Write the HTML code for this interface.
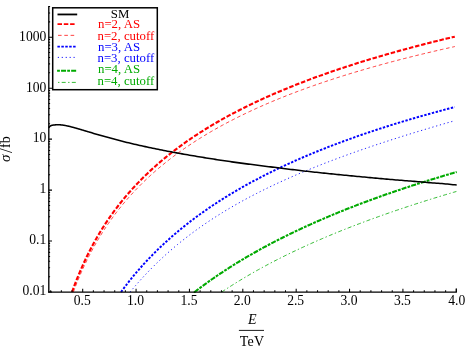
<!DOCTYPE html>
<html>
<head>
<meta charset="utf-8">
<title>Cross section vs energy</title>
<style>
html,body{margin:0;padding:0;background:#fff;}
body{width:465px;height:348px;overflow:hidden;font-family:"Liberation Serif",serif;}
svg{display:block;will-change:transform;}
text{font-family:"Liberation Serif",serif;}
</style>
</head>
<body>
<svg width="465" height="348" viewBox="0 0 465 348">
<rect width="465" height="348" fill="#fff"/>
<!-- curves -->
<g fill="none" stroke-linecap="butt" stroke-linejoin="round">
<path d="M73.37 292 L74.36 289.33 L75.72 285.79 L77.08 282.36 L78.44 279.03 L79.79 275.8 L81.15 272.65 L82.51 269.6 L83.87 266.63 L85.23 263.73 L86.59 260.91 L87.95 258.16 L89.3 255.48 L90.66 252.86 L92.02 250.3 L93.38 247.8 L94.74 245.36 L96.1 242.97 L97.46 240.63 L98.82 238.35 L100.17 236.11 L101.53 233.91 L102.89 231.76 L104.25 229.65 L105.61 227.59 L106.97 225.56 L108.33 223.57 L109.69 221.62 L111.04 219.7 L112.4 217.82 L113.76 215.97 L115.12 214.15 L116.48 212.36 L117.84 210.6 L119.2 208.87 L120.56 207.17 L121.91 205.5 L123.27 203.85 L124.63 202.23 L125.99 200.64 L127.35 199.06 L128.71 197.51 L130.07 195.99 L131.43 194.49 L132.78 193 L134.14 191.54 L135.5 190.1 L136.86 188.68 L138.22 187.28 L139.58 185.9 L140.94 184.54 L142.29 183.19 L143.65 181.87 L145.01 180.56 L146.37 179.26 L147.73 177.99 L149.09 176.72 L150.45 175.48 L151.81 174.25 L153.16 173.03 L154.52 171.83 L155.88 170.65 L157.24 169.47 L158.6 168.31 L159.96 167.17 L161.32 166.03 L162.68 164.91 L164.03 163.81 L165.39 162.71 L166.75 161.63 L168.11 160.56 L169.47 159.5 L170.83 158.45 L172.19 157.41 L173.55 156.38 L174.9 155.37 L176.26 154.36 L177.62 153.37 L178.98 152.38 L180.34 151.41 L181.7 150.44 L183.06 149.48 L184.42 148.54 L185.77 147.6 L187.13 146.67 L188.49 145.75 L189.85 144.84 L191.21 143.94 L192.57 143.04 L193.93 142.15 L195.28 141.28 L196.64 140.41 L198 139.54 L199.36 138.69 L200.72 137.84 L202.08 137 L203.44 136.17 L204.8 135.34 L206.15 134.53 L207.51 133.72 L208.87 132.91 L210.23 132.11 L211.59 131.32 L212.95 130.54 L214.31 129.76 L215.67 128.99 L217.02 128.22 L218.38 127.46 L219.74 126.71 L221.1 125.96 L222.46 125.22 L223.82 124.49 L225.18 123.76 L226.54 123.04 L227.89 122.32 L229.25 121.6 L230.61 120.9 L231.97 120.19 L233.33 119.5 L234.69 118.81 L236.05 118.12 L237.41 117.44 L238.76 116.76 L240.12 116.09 L241.48 115.42 L242.84 114.76 L244.2 114.1 L245.56 113.45 L246.92 112.8 L248.27 112.16 L249.63 111.52 L250.99 110.89 L252.35 110.26 L253.71 109.63 L255.07 109.01 L256.43 108.39 L257.79 107.78 L259.14 107.17 L260.5 106.56 L261.86 105.96 L263.22 105.37 L264.58 104.77 L265.94 104.18 L267.3 103.6 L268.66 103.02 L270.01 102.44 L271.37 101.86 L272.73 101.29 L274.09 100.72 L275.45 100.16 L276.81 99.6 L278.17 99.04 L279.53 98.49 L280.88 97.94 L282.24 97.4 L283.6 96.85 L284.96 96.31 L286.32 95.78 L287.68 95.24 L289.04 94.71 L290.4 94.18 L291.75 93.66 L293.11 93.14 L294.47 92.62 L295.83 92.11 L297.19 91.59 L298.55 91.09 L299.91 90.58 L301.26 90.08 L302.62 89.58 L303.98 89.08 L305.34 88.58 L306.7 88.09 L308.06 87.6 L309.42 87.12 L310.78 86.63 L312.13 86.15 L313.49 85.67 L314.85 85.2 L316.21 84.72 L317.57 84.25 L318.93 83.78 L320.29 83.32 L321.65 82.86 L323 82.39 L324.36 81.94 L325.72 81.48 L327.08 81.03 L328.44 80.57 L329.8 80.13 L331.16 79.68 L332.52 79.23 L333.87 78.79 L335.23 78.35 L336.59 77.92 L337.95 77.48 L339.31 77.05 L340.67 76.62 L342.03 76.19 L343.39 75.76 L344.74 75.34 L346.1 74.91 L347.46 74.49 L348.82 74.07 L350.18 73.66 L351.54 73.24 L352.9 72.83 L354.25 72.42 L355.61 72.01 L356.97 71.61 L358.33 71.2 L359.69 70.8 L361.05 70.4 L362.41 70 L363.77 69.6 L365.12 69.21 L366.48 68.81 L367.84 68.42 L369.2 68.03 L370.56 67.64 L371.92 67.26 L373.28 66.87 L374.64 66.49 L375.99 66.11 L377.35 65.73 L378.71 65.35 L380.07 64.98 L381.43 64.6 L382.79 64.23 L384.15 63.86 L385.51 63.49 L386.86 63.12 L388.22 62.76 L389.58 62.39 L390.94 62.03 L392.3 61.67 L393.66 61.31 L395.02 60.95 L396.38 60.6 L397.73 60.24 L399.09 59.89 L400.45 59.53 L401.81 59.18 L403.17 58.83 L404.53 58.49 L405.89 58.14 L407.24 57.8 L408.6 57.45 L409.96 57.11 L411.32 56.77 L412.68 56.43 L414.04 56.09 L415.4 55.76 L416.76 55.42 L418.11 55.09 L419.47 54.76 L420.83 54.43 L422.19 54.1 L423.55 53.77 L424.91 53.44 L426.27 53.12 L427.63 52.79 L428.98 52.47 L430.34 52.15 L431.7 51.83 L433.06 51.51 L434.42 51.19 L435.78 50.87 L437.14 50.56 L438.5 50.24 L439.85 49.93 L441.21 49.62 L442.57 49.31 L443.93 49 L445.29 48.69 L446.65 48.38 L448.01 48.08 L449.37 47.77 L450.72 47.47 L452.08 47.16 L453.44 46.86 L454.8 46.56" stroke="#ff0000" stroke-width="0.75" stroke-dasharray="3.6 2.7"/>
<path d="M130.13 292 L130.07 292.08 L131.43 290.44 L132.78 288.83 L134.14 287.23 L135.5 285.65 L136.86 284.09 L138.22 282.55 L139.58 281.02 L140.94 279.51 L142.29 278.02 L143.65 276.55 L145.01 275.09 L146.37 273.65 L147.73 272.22 L149.09 270.81 L150.45 269.42 L151.81 268.04 L153.16 266.67 L154.52 265.32 L155.88 263.99 L157.24 262.67 L158.6 261.36 L159.96 260.07 L161.32 258.8 L162.68 257.53 L164.03 256.28 L165.39 255.04 L166.75 253.82 L168.11 252.61 L169.47 251.41 L170.83 250.22 L172.19 249.05 L173.55 247.88 L174.9 246.73 L176.26 245.59 L177.62 244.46 L178.98 243.35 L180.34 242.24 L181.7 241.15 L183.06 240.06 L184.42 238.99 L185.77 237.92 L187.13 236.87 L188.49 235.83 L189.85 234.79 L191.21 233.77 L192.57 232.75 L193.93 231.75 L195.28 230.75 L196.64 229.77 L198 228.79 L199.36 227.82 L200.72 226.86 L202.08 225.91 L203.44 224.96 L204.8 224.03 L206.15 223.1 L207.51 222.18 L208.87 221.27 L210.23 220.37 L211.59 219.47 L212.95 218.58 L214.31 217.7 L215.67 216.83 L217.02 215.96 L218.38 215.1 L219.74 214.25 L221.1 213.41 L222.46 212.57 L223.82 211.73 L225.18 210.91 L226.54 210.09 L227.89 209.28 L229.25 208.47 L230.61 207.67 L231.97 206.88 L233.33 206.09 L234.69 205.31 L236.05 204.53 L237.41 203.76 L238.76 203 L240.12 202.24 L241.48 201.48 L242.84 200.73 L244.2 199.99 L245.56 199.25 L246.92 198.52 L248.27 197.79 L249.63 197.07 L250.99 196.35 L252.35 195.64 L253.71 194.93 L255.07 194.23 L256.43 193.53 L257.79 192.84 L259.14 192.15 L260.5 191.46 L261.86 190.78 L263.22 190.11 L264.58 189.44 L265.94 188.77 L267.3 188.11 L268.66 187.45 L270.01 186.79 L271.37 186.14 L272.73 185.5 L274.09 184.85 L275.45 184.22 L276.81 183.58 L278.17 182.95 L279.53 182.32 L280.88 181.7 L282.24 181.08 L283.6 180.46 L284.96 179.85 L286.32 179.24 L287.68 178.63 L289.04 178.03 L290.4 177.43 L291.75 176.83 L293.11 176.24 L294.47 175.65 L295.83 175.06 L297.19 174.48 L298.55 173.9 L299.91 173.32 L301.26 172.75 L302.62 172.18 L303.98 171.61 L305.34 171.04 L306.7 170.48 L308.06 169.92 L309.42 169.37 L310.78 168.81 L312.13 168.26 L313.49 167.71 L314.85 167.17 L316.21 166.62 L317.57 166.08 L318.93 165.54 L320.29 165.01 L321.65 164.47 L323 163.94 L324.36 163.41 L325.72 162.89 L327.08 162.37 L328.44 161.84 L329.8 161.33 L331.16 160.81 L332.52 160.29 L333.87 159.78 L335.23 159.27 L336.59 158.76 L337.95 158.26 L339.31 157.76 L340.67 157.25 L342.03 156.76 L343.39 156.26 L344.74 155.76 L346.1 155.27 L347.46 154.78 L348.82 154.29 L350.18 153.8 L351.54 153.32 L352.9 152.83 L354.25 152.35 L355.61 151.87 L356.97 151.39 L358.33 150.92 L359.69 150.44 L361.05 149.97 L362.41 149.5 L363.77 149.03 L365.12 148.57 L366.48 148.1 L367.84 147.64 L369.2 147.17 L370.56 146.71 L371.92 146.25 L373.28 145.8 L374.64 145.34 L375.99 144.89 L377.35 144.43 L378.71 143.98 L380.07 143.53 L381.43 143.08 L382.79 142.64 L384.15 142.19 L385.51 141.75 L386.86 141.3 L388.22 140.86 L389.58 140.42 L390.94 139.99 L392.3 139.55 L393.66 139.11 L395.02 138.68 L396.38 138.25 L397.73 137.81 L399.09 137.38 L400.45 136.95 L401.81 136.53 L403.17 136.1 L404.53 135.67 L405.89 135.25 L407.24 134.83 L408.6 134.41 L409.96 133.99 L411.32 133.57 L412.68 133.15 L414.04 132.73 L415.4 132.31 L416.76 131.9 L418.11 131.49 L419.47 131.07 L420.83 130.66 L422.19 130.25 L423.55 129.84 L424.91 129.43 L426.27 129.03 L427.63 128.62 L428.98 128.21 L430.34 127.81 L431.7 127.41 L433.06 127 L434.42 126.6 L435.78 126.2 L437.14 125.8 L438.5 125.4 L439.85 125.01 L441.21 124.61 L442.57 124.21 L443.93 123.82 L445.29 123.43 L446.65 123.03 L448.01 122.64 L449.37 122.25 L450.72 121.86 L452.08 121.47 L453.44 121.08 L454.8 120.69" stroke="#0000ff" stroke-width="0.9" stroke-dasharray="1.2 2.73"/>
<path d="M221.78 292 L221.78 292 L223.14 291.09 L224.51 290.18 L225.87 289.28 L227.24 288.39 L228.6 287.51 L229.96 286.63 L231.33 285.76 L232.69 284.89 L234.06 284.03 L235.42 283.18 L236.78 282.33 L238.15 281.49 L239.51 280.66 L240.88 279.83 L242.24 279.01 L243.61 278.19 L244.97 277.38 L246.33 276.57 L247.7 275.77 L249.06 274.98 L250.43 274.19 L251.79 273.4 L253.15 272.62 L254.52 271.85 L255.88 271.08 L257.25 270.31 L258.61 269.56 L259.97 268.8 L261.34 268.05 L262.7 267.31 L264.07 266.56 L265.43 265.83 L266.79 265.1 L268.16 264.37 L269.52 263.65 L270.89 262.93 L272.25 262.22 L273.61 261.51 L274.98 260.8 L276.34 260.1 L277.71 259.4 L279.07 258.71 L280.44 258.02 L281.8 257.34 L283.16 256.65 L284.53 255.98 L285.89 255.3 L287.26 254.63 L288.62 253.97 L289.98 253.31 L291.35 252.65 L292.71 251.99 L294.08 251.34 L295.44 250.69 L296.8 250.05 L298.17 249.41 L299.53 248.77 L300.9 248.14 L302.26 247.51 L303.62 246.88 L304.99 246.25 L306.35 245.63 L307.72 245.01 L309.08 244.4 L310.44 243.79 L311.81 243.18 L313.17 242.57 L314.54 241.97 L315.9 241.37 L317.26 240.78 L318.63 240.18 L319.99 239.59 L321.36 239 L322.72 238.42 L324.09 237.84 L325.45 237.26 L326.81 236.68 L328.18 236.11 L329.54 235.54 L330.91 234.97 L332.27 234.4 L333.63 233.84 L335 233.28 L336.36 232.72 L337.73 232.16 L339.09 231.61 L340.45 231.06 L341.82 230.51 L343.18 229.97 L344.55 229.43 L345.91 228.88 L347.27 228.35 L348.64 227.81 L350 227.28 L351.37 226.75 L352.73 226.22 L354.09 225.69 L355.46 225.17 L356.82 224.64 L358.19 224.12 L359.55 223.61 L360.92 223.09 L362.28 222.58 L363.64 222.07 L365.01 221.56 L366.37 221.05 L367.74 220.54 L369.1 220.04 L370.46 219.54 L371.83 219.04 L373.19 218.55 L374.56 218.05 L375.92 217.56 L377.28 217.07 L378.65 216.58 L380.01 216.09 L381.38 215.61 L382.74 215.12 L384.1 214.64 L385.47 214.16 L386.83 213.68 L388.2 213.21 L389.56 212.73 L390.92 212.26 L392.29 211.79 L393.65 211.32 L395.02 210.86 L396.38 210.39 L397.75 209.93 L399.11 209.47 L400.47 209.01 L401.84 208.55 L403.2 208.09 L404.57 207.64 L405.93 207.18 L407.29 206.73 L408.66 206.28 L410.02 205.83 L411.39 205.39 L412.75 204.94 L414.11 204.5 L415.48 204.06 L416.84 203.62 L418.21 203.18 L419.57 202.74 L420.93 202.3 L422.3 201.87 L423.66 201.44 L425.03 201.01 L426.39 200.58 L427.75 200.15 L429.12 199.72 L430.48 199.29 L431.85 198.87 L433.21 198.45 L434.57 198.03 L435.94 197.61 L437.3 197.19 L438.67 196.77 L440.03 196.36 L441.4 195.94 L442.76 195.53 L444.12 195.12 L445.49 194.71 L446.85 194.3 L448.22 193.89 L449.58 193.48 L450.94 193.08 L452.31 192.67 L453.67 192.27 L455.04 191.87 L456.4 191.47" stroke="#00aa00" stroke-width="0.8" stroke-dasharray="4 2.35 1.4 2.35"/>
<path d="M72.06 292 L73 289.37 L74.36 285.69 L75.72 282.12 L77.08 278.66 L78.44 275.3 L79.79 272.04 L81.15 268.88 L82.51 265.8 L83.87 262.8 L85.23 259.88 L86.59 257.04 L87.95 254.26 L89.3 251.56 L90.66 248.92 L92.02 246.34 L93.38 243.82 L94.74 241.35 L96.1 238.94 L97.46 236.58 L98.82 234.28 L100.17 232.02 L101.53 229.8 L102.89 227.63 L104.25 225.5 L105.61 223.41 L106.97 221.37 L108.33 219.36 L109.69 217.38 L111.04 215.44 L112.4 213.54 L113.76 211.67 L115.12 209.83 L116.48 208.02 L117.84 206.24 L119.2 204.5 L120.56 202.77 L121.91 201.08 L123.27 199.41 L124.63 197.77 L125.99 196.16 L127.35 194.56 L128.71 192.99 L130.07 191.45 L131.43 189.92 L132.78 188.42 L134.14 186.94 L135.5 185.48 L136.86 184.04 L138.22 182.62 L139.58 181.21 L140.94 179.83 L142.29 178.46 L143.65 177.12 L145.01 175.78 L146.37 174.47 L147.73 173.17 L149.09 171.89 L150.45 170.62 L151.81 169.37 L153.16 168.13 L154.52 166.91 L155.88 165.7 L157.24 164.51 L158.6 163.33 L159.96 162.16 L161.32 161.01 L162.68 159.86 L164.03 158.73 L165.39 157.62 L166.75 156.51 L168.11 155.42 L169.47 154.34 L170.83 153.27 L172.19 152.21 L173.55 151.16 L174.9 150.12 L176.26 149.09 L177.62 148.08 L178.98 147.07 L180.34 146.07 L181.7 145.08 L183.06 144.1 L184.42 143.13 L185.77 142.17 L187.13 141.22 L188.49 140.28 L189.85 139.35 L191.21 138.42 L192.57 137.5 L193.93 136.6 L195.28 135.69 L196.64 134.8 L198 133.92 L199.36 133.04 L200.72 132.17 L202.08 131.31 L203.44 130.45 L204.8 129.6 L206.15 128.76 L207.51 127.93 L208.87 127.1 L210.23 126.28 L211.59 125.47 L212.95 124.66 L214.31 123.86 L215.67 123.07 L217.02 122.28 L218.38 121.5 L219.74 120.72 L221.1 119.95 L222.46 119.19 L223.82 118.43 L225.18 117.68 L226.54 116.93 L227.89 116.19 L229.25 115.45 L230.61 114.72 L231.97 114 L233.33 113.28 L234.69 112.57 L236.05 111.86 L237.41 111.15 L238.76 110.45 L240.12 109.76 L241.48 109.07 L242.84 108.38 L244.2 107.7 L245.56 107.03 L246.92 106.36 L248.27 105.69 L249.63 105.03 L250.99 104.37 L252.35 103.72 L253.71 103.07 L255.07 102.42 L256.43 101.78 L257.79 101.15 L259.14 100.51 L260.5 99.89 L261.86 99.26 L263.22 98.64 L264.58 98.03 L265.94 97.41 L267.3 96.8 L268.66 96.2 L270.01 95.6 L271.37 95 L272.73 94.41 L274.09 93.82 L275.45 93.23 L276.81 92.65 L278.17 92.07 L279.53 91.49 L280.88 90.92 L282.24 90.35 L283.6 89.78 L284.96 89.22 L286.32 88.66 L287.68 88.1 L289.04 87.55 L290.4 87 L291.75 86.45 L293.11 85.91 L294.47 85.37 L295.83 84.83 L297.19 84.29 L298.55 83.76 L299.91 83.23 L301.26 82.71 L302.62 82.18 L303.98 81.66 L305.34 81.15 L306.7 80.63 L308.06 80.12 L309.42 79.61 L310.78 79.1 L312.13 78.6 L313.49 78.1 L314.85 77.6 L316.21 77.1 L317.57 76.61 L318.93 76.12 L320.29 75.63 L321.65 75.14 L323 74.66 L324.36 74.18 L325.72 73.7 L327.08 73.22 L328.44 72.75 L329.8 72.27 L331.16 71.81 L332.52 71.34 L333.87 70.87 L335.23 70.41 L336.59 69.95 L337.95 69.49 L339.31 69.04 L340.67 68.58 L342.03 68.13 L343.39 67.68 L344.74 67.23 L346.1 66.79 L347.46 66.34 L348.82 65.9 L350.18 65.46 L351.54 65.03 L352.9 64.59 L354.25 64.16 L355.61 63.73 L356.97 63.3 L358.33 62.87 L359.69 62.45 L361.05 62.02 L362.41 61.6 L363.77 61.18 L365.12 60.76 L366.48 60.35 L367.84 59.93 L369.2 59.52 L370.56 59.11 L371.92 58.7 L373.28 58.29 L374.64 57.89 L375.99 57.49 L377.35 57.08 L378.71 56.68 L380.07 56.29 L381.43 55.89 L382.79 55.49 L384.15 55.1 L385.51 54.71 L386.86 54.32 L388.22 53.93 L389.58 53.54 L390.94 53.16 L392.3 52.77 L393.66 52.39 L395.02 52.01 L396.38 51.63 L397.73 51.26 L399.09 50.88 L400.45 50.51 L401.81 50.13 L403.17 49.76 L404.53 49.39 L405.89 49.02 L407.24 48.66 L408.6 48.29 L409.96 47.93 L411.32 47.56 L412.68 47.2 L414.04 46.84 L415.4 46.48 L416.76 46.13 L418.11 45.77 L419.47 45.42 L420.83 45.06 L422.19 44.71 L423.55 44.36 L424.91 44.01 L426.27 43.66 L427.63 43.32 L428.98 42.97 L430.34 42.63 L431.7 42.28 L433.06 41.94 L434.42 41.6 L435.78 41.26 L437.14 40.93 L438.5 40.59 L439.85 40.26 L441.21 39.92 L442.57 39.59 L443.93 39.26 L445.29 38.93 L446.65 38.6 L448.01 38.27 L449.37 37.94 L450.72 37.62 L452.08 37.29 L453.44 36.97 L454.8 36.65" stroke="#ff0000" stroke-width="2.1" stroke-dasharray="4.5 1.8"/>
<path d="M121.04 292 L121.91 290.81 L123.27 288.97 L124.63 287.15 L125.99 285.37 L127.35 283.6 L128.71 281.87 L130.07 280.15 L131.43 278.46 L132.78 276.8 L134.14 275.15 L135.5 273.53 L136.86 271.93 L138.22 270.35 L139.58 268.79 L140.94 267.24 L142.29 265.72 L143.65 264.22 L145.01 262.73 L146.37 261.27 L147.73 259.82 L149.09 258.38 L150.45 256.97 L151.81 255.57 L153.16 254.19 L154.52 252.82 L155.88 251.47 L157.24 250.13 L158.6 248.81 L159.96 247.5 L161.32 246.2 L162.68 244.92 L164.03 243.66 L165.39 242.4 L166.75 241.16 L168.11 239.94 L169.47 238.72 L170.83 237.52 L172.19 236.33 L173.55 235.15 L174.9 233.98 L176.26 232.83 L177.62 231.68 L178.98 230.55 L180.34 229.43 L181.7 228.31 L183.06 227.21 L184.42 226.12 L185.77 225.04 L187.13 223.97 L188.49 222.91 L189.85 221.86 L191.21 220.82 L192.57 219.78 L193.93 218.76 L195.28 217.74 L196.64 216.74 L198 215.74 L199.36 214.75 L200.72 213.77 L202.08 212.8 L203.44 211.84 L204.8 210.88 L206.15 209.93 L207.51 208.99 L208.87 208.06 L210.23 207.14 L211.59 206.22 L212.95 205.31 L214.31 204.41 L215.67 203.51 L217.02 202.62 L218.38 201.74 L219.74 200.87 L221.1 200 L222.46 199.14 L223.82 198.28 L225.18 197.43 L226.54 196.59 L227.89 195.76 L229.25 194.93 L230.61 194.1 L231.97 193.29 L233.33 192.47 L234.69 191.67 L236.05 190.87 L237.41 190.07 L238.76 189.29 L240.12 188.5 L241.48 187.73 L242.84 186.95 L244.2 186.19 L245.56 185.43 L246.92 184.67 L248.27 183.92 L249.63 183.17 L250.99 182.43 L252.35 181.7 L253.71 180.97 L255.07 180.24 L256.43 179.52 L257.79 178.8 L259.14 178.09 L260.5 177.38 L261.86 176.68 L263.22 175.98 L264.58 175.29 L265.94 174.6 L267.3 173.92 L268.66 173.24 L270.01 172.56 L271.37 171.89 L272.73 171.22 L274.09 170.56 L275.45 169.9 L276.81 169.24 L278.17 168.59 L279.53 167.94 L280.88 167.3 L282.24 166.66 L283.6 166.02 L284.96 165.39 L286.32 164.76 L287.68 164.14 L289.04 163.52 L290.4 162.9 L291.75 162.29 L293.11 161.68 L294.47 161.07 L295.83 160.47 L297.19 159.87 L298.55 159.27 L299.91 158.68 L301.26 158.09 L302.62 157.5 L303.98 156.92 L305.34 156.34 L306.7 155.76 L308.06 155.19 L309.42 154.62 L310.78 154.05 L312.13 153.49 L313.49 152.92 L314.85 152.37 L316.21 151.81 L317.57 151.26 L318.93 150.71 L320.29 150.16 L321.65 149.62 L323 149.08 L324.36 148.54 L325.72 148.01 L327.08 147.47 L328.44 146.94 L329.8 146.42 L331.16 145.89 L332.52 145.37 L333.87 144.85 L335.23 144.34 L336.59 143.82 L337.95 143.31 L339.31 142.8 L340.67 142.3 L342.03 141.79 L343.39 141.29 L344.74 140.8 L346.1 140.3 L347.46 139.81 L348.82 139.31 L350.18 138.83 L351.54 138.34 L352.9 137.86 L354.25 137.37 L355.61 136.89 L356.97 136.42 L358.33 135.94 L359.69 135.47 L361.05 135 L362.41 134.53 L363.77 134.07 L365.12 133.6 L366.48 133.14 L367.84 132.68 L369.2 132.22 L370.56 131.77 L371.92 131.31 L373.28 130.86 L374.64 130.41 L375.99 129.97 L377.35 129.52 L378.71 129.08 L380.07 128.64 L381.43 128.2 L382.79 127.76 L384.15 127.33 L385.51 126.89 L386.86 126.46 L388.22 126.03 L389.58 125.6 L390.94 125.18 L392.3 124.75 L393.66 124.33 L395.02 123.91 L396.38 123.49 L397.73 123.08 L399.09 122.66 L400.45 122.25 L401.81 121.84 L403.17 121.43 L404.53 121.02 L405.89 120.61 L407.24 120.21 L408.6 119.81 L409.96 119.41 L411.32 119.01 L412.68 118.61 L414.04 118.21 L415.4 117.82 L416.76 117.43 L418.11 117.03 L419.47 116.64 L420.83 116.26 L422.19 115.87 L423.55 115.48 L424.91 115.1 L426.27 114.72 L427.63 114.34 L428.98 113.96 L430.34 113.58 L431.7 113.21 L433.06 112.83 L434.42 112.46 L435.78 112.09 L437.14 111.72 L438.5 111.35 L439.85 110.98 L441.21 110.62 L442.57 110.25 L443.93 109.89 L445.29 109.53 L446.65 109.17 L448.01 108.81 L449.37 108.45 L450.72 108.1 L452.08 107.74 L453.44 107.39 L454.8 107.04" stroke="#0000ff" stroke-width="1.95" stroke-dasharray="2.4 1.53"/>
<path d="M194.62 292 L194.61 292.01 L195.97 290.96 L197.34 289.92 L198.7 288.89 L200.07 287.86 L201.43 286.85 L202.8 285.84 L204.16 284.84 L205.53 283.85 L206.89 282.86 L208.26 281.89 L209.62 280.92 L210.99 279.95 L212.35 279 L213.72 278.05 L215.08 277.11 L216.45 276.18 L217.81 275.25 L219.18 274.33 L220.54 273.41 L221.91 272.51 L223.27 271.61 L224.64 270.71 L226 269.82 L227.37 268.94 L228.73 268.07 L230.1 267.2 L231.46 266.33 L232.83 265.47 L234.19 264.62 L235.56 263.78 L236.92 262.94 L238.29 262.1 L239.65 261.27 L241.02 260.45 L242.38 259.63 L243.75 258.81 L245.11 258 L246.48 257.2 L247.84 256.4 L249.21 255.61 L250.57 254.82 L251.94 254.04 L253.3 253.26 L254.67 252.49 L256.03 251.72 L257.4 250.96 L258.76 250.2 L260.13 249.44 L261.49 248.69 L262.86 247.95 L264.22 247.2 L265.59 246.47 L266.95 245.74 L268.32 245.01 L269.69 244.28 L271.05 243.56 L272.42 242.85 L273.78 242.14 L275.15 241.43 L276.51 240.73 L277.88 240.03 L279.24 239.33 L280.61 238.64 L281.97 237.95 L283.34 237.27 L284.7 236.59 L286.07 235.91 L287.43 235.24 L288.8 234.57 L290.16 233.91 L291.53 233.24 L292.89 232.59 L294.26 231.93 L295.62 231.28 L296.99 230.63 L298.35 229.99 L299.72 229.35 L301.08 228.71 L302.45 228.07 L303.81 227.44 L305.18 226.82 L306.54 226.19 L307.91 225.57 L309.27 224.95 L310.64 224.34 L312 223.72 L313.37 223.11 L314.73 222.51 L316.1 221.91 L317.46 221.31 L318.83 220.71 L320.19 220.11 L321.56 219.52 L322.92 218.93 L324.29 218.35 L325.65 217.77 L327.02 217.19 L328.38 216.61 L329.75 216.03 L331.11 215.46 L332.48 214.89 L333.84 214.33 L335.21 213.76 L336.57 213.2 L337.94 212.64 L339.3 212.09 L340.67 211.54 L342.03 210.98 L343.4 210.44 L344.76 209.89 L346.13 209.35 L347.49 208.81 L348.86 208.27 L350.22 207.73 L351.59 207.2 L352.95 206.67 L354.32 206.14 L355.68 205.61 L357.05 205.09 L358.41 204.56 L359.78 204.04 L361.14 203.53 L362.51 203.01 L363.88 202.5 L365.24 201.99 L366.61 201.48 L367.97 200.97 L369.34 200.47 L370.7 199.97 L372.07 199.47 L373.43 198.97 L374.8 198.47 L376.16 197.98 L377.53 197.49 L378.89 197 L380.26 196.51 L381.62 196.02 L382.99 195.54 L384.35 195.06 L385.72 194.58 L387.08 194.1 L388.45 193.62 L389.81 193.15 L391.18 192.68 L392.54 192.21 L393.91 191.74 L395.27 191.27 L396.64 190.81 L398 190.34 L399.37 189.88 L400.73 189.42 L402.1 188.97 L403.46 188.51 L404.83 188.06 L406.19 187.6 L407.56 187.15 L408.92 186.7 L410.29 186.26 L411.65 185.81 L413.02 185.37 L414.38 184.93 L415.75 184.49 L417.11 184.05 L418.48 183.61 L419.84 183.17 L421.21 182.74 L422.57 182.31 L423.94 181.88 L425.3 181.45 L426.67 181.02 L428.03 180.6 L429.4 180.17 L430.76 179.75 L432.13 179.33 L433.49 178.91 L434.86 178.49 L436.22 178.07 L437.59 177.66 L438.95 177.24 L440.32 176.83 L441.68 176.42 L443.05 176.01 L444.41 175.6 L445.78 175.2 L447.14 174.79 L448.51 174.39 L449.87 173.99 L451.24 173.58 L452.6 173.19 L453.97 172.79 L455.33 172.39 L456.7 171.99" stroke="#00aa00" stroke-width="2.1" stroke-dasharray="5 1.15 2.8 1.15"/>
<path d="M48.8 127.84 L49.15 127.28 L49.49 126.82 L49.84 126.44 L50.18 126.14 L50.53 125.9 L50.88 125.7 L51.22 125.54 L51.57 125.42 L51.92 125.32 L52.26 125.23 L52.61 125.17 L52.95 125.12 L53.3 125.07 L53.65 125.03 L53.99 124.99 L54.34 124.95 L54.69 124.92 L55.03 124.89 L55.38 124.86 L55.72 124.83 L56.07 124.81 L56.42 124.79 L56.76 124.78 L57.11 124.77 L57.46 124.76 L57.8 124.76 L58.15 124.76 L58.49 124.76 L58.84 124.77 L59.19 124.78 L59.53 124.8 L59.88 124.82 L60.23 124.84 L60.57 124.86 L60.92 124.89 L61.26 124.92 L61.61 124.96 L61.96 125 L62.3 125.04 L62.65 125.08 L62.99 125.13 L63.34 125.18 L63.69 125.24 L64.03 125.29 L64.38 125.35 L64.73 125.41 L65.07 125.47 L65.42 125.54 L65.76 125.61 L66.11 125.67 L66.46 125.75 L66.8 125.82 L67.15 125.89 L67.5 125.97 L67.84 126.04 L68.19 126.12 L68.53 126.2 L68.88 126.28 L69.23 126.37 L69.57 126.45 L69.92 126.53 L70.27 126.62 L70.61 126.71 L70.96 126.79 L71.3 126.88 L71.65 126.97 L72 127.06 L72.34 127.15 L72.69 127.24 L73.04 127.34 L73.38 127.43 L73.73 127.52 L74.07 127.62 L74.42 127.71 L74.77 127.81 L75.11 127.91 L75.46 128 L75.81 128.1 L76.15 128.2 L76.5 128.3 L76.84 128.39 L77.19 128.49 L77.54 128.59 L77.88 128.69 L78.23 128.79 L78.57 128.89 L78.92 128.99 L79.27 129.09 L79.61 129.2 L79.96 129.3 L80.31 129.4 L80.65 129.5 L81 129.6 L81.34 129.7 L81.69 129.81 L82.04 129.91 L82.38 130.01 L82.73 130.12 L83.08 130.22 L83.42 130.32 L83.77 130.43 L84.11 130.53 L84.46 130.63 L84.81 130.74 L85.15 130.84 L85.5 130.94 L85.85 131.05 L86.19 131.15 L86.54 131.25 L86.88 131.36 L87.23 131.46 L87.58 131.57 L87.92 131.67 L88.27 131.77 L88.62 131.88 L88.96 131.98 L89.31 132.09 L89.65 132.19 L90 132.29 L91.84 132.84 L93.69 133.39 L95.53 133.94 L97.37 134.48 L99.21 135.01 L101.06 135.54 L102.9 136.07 L104.74 136.59 L106.58 137.11 L108.43 137.62 L110.27 138.12 L112.11 138.62 L113.96 139.11 L115.8 139.6 L117.64 140.08 L119.48 140.55 L121.33 141.02 L123.17 141.49 L125.01 141.94 L126.85 142.39 L128.7 142.84 L130.54 143.28 L132.38 143.72 L134.23 144.15 L136.07 144.57 L137.91 144.99 L139.75 145.41 L141.6 145.82 L143.44 146.23 L145.28 146.63 L147.12 147.02 L148.97 147.42 L150.81 147.81 L152.65 148.19 L154.49 148.57 L156.34 148.95 L158.18 149.32 L160.02 149.69 L161.87 150.06 L163.71 150.42 L165.55 150.78 L167.39 151.14 L169.24 151.49 L171.08 151.84 L172.92 152.18 L174.76 152.53 L176.61 152.87 L178.45 153.2 L180.29 153.54 L182.14 153.87 L183.98 154.2 L185.82 154.52 L187.66 154.84 L189.51 155.16 L191.35 155.48 L193.19 155.79 L195.03 156.11 L196.88 156.41 L198.72 156.72 L200.56 157.03 L202.41 157.33 L204.25 157.63 L206.09 157.92 L207.93 158.22 L209.78 158.51 L211.62 158.8 L213.46 159.09 L215.3 159.38 L217.15 159.66 L218.99 159.94 L220.83 160.22 L222.68 160.5 L224.52 160.78 L226.36 161.05 L228.2 161.32 L230.05 161.59 L231.89 161.86 L233.73 162.12 L235.57 162.38 L237.42 162.64 L239.26 162.89 L241.1 163.14 L242.95 163.39 L244.79 163.64 L246.63 163.88 L248.47 164.12 L250.32 164.35 L252.16 164.59 L254 164.82 L255.84 165.06 L257.69 165.29 L259.53 165.52 L261.37 165.75 L263.22 165.97 L265.06 166.2 L266.9 166.43 L268.74 166.66 L270.59 166.89 L272.43 167.11 L274.27 167.34 L276.11 167.57 L277.96 167.8 L279.8 168.03 L281.64 168.26 L283.48 168.49 L285.33 168.72 L287.17 168.95 L289.01 169.18 L290.86 169.4 L292.7 169.63 L294.54 169.85 L296.38 170.07 L298.23 170.29 L300.07 170.51 L301.91 170.72 L303.75 170.94 L305.6 171.15 L307.44 171.35 L309.28 171.56 L311.13 171.76 L312.97 171.96 L314.81 172.16 L316.65 172.35 L318.5 172.55 L320.34 172.74 L322.18 172.93 L324.02 173.12 L325.87 173.31 L327.71 173.5 L329.55 173.69 L331.4 173.87 L333.24 174.06 L335.08 174.24 L336.92 174.42 L338.77 174.61 L340.61 174.79 L342.45 174.97 L344.29 175.15 L346.14 175.33 L347.98 175.51 L349.82 175.69 L351.67 175.87 L353.51 176.05 L355.35 176.23 L357.19 176.4 L359.04 176.58 L360.88 176.76 L362.72 176.93 L364.56 177.1 L366.41 177.28 L368.25 177.45 L370.09 177.62 L371.94 177.79 L373.78 177.96 L375.62 178.13 L377.46 178.29 L379.31 178.46 L381.15 178.62 L382.99 178.79 L384.83 178.95 L386.68 179.11 L388.52 179.27 L390.36 179.43 L392.21 179.58 L394.05 179.74 L395.89 179.9 L397.73 180.05 L399.58 180.2 L401.42 180.35 L403.26 180.5 L405.1 180.65 L406.95 180.8 L408.79 180.94 L410.63 181.09 L412.47 181.23 L414.32 181.37 L416.16 181.52 L418 181.67 L419.85 181.82 L421.69 181.99 L423.53 182.17 L425.37 182.34 L427.22 182.5 L429.06 182.64 L430.9 182.78 L432.74 182.91 L434.59 183.04 L436.43 183.17 L438.27 183.3 L440.12 183.44 L441.96 183.58 L443.8 183.74 L445.64 183.91 L447.49 184.1 L449.33 184.29 L451.17 184.48 L453.01 184.67 L454.86 184.85 L456.7 185.01" stroke="#000" stroke-width="1.55"/>
</g>
<!-- axes -->
<g fill="none" stroke="#000">
<path d="M48.8 6 V292.6" stroke-width="1.35"/>
<path d="M48.1 292 H456.9" stroke-width="1.25"/>
<path d="M456.3 292 v-3.4" stroke-width="1.1"/>
<path d="M50.68 292 v-1.7 M61.35 292 v-1.7 M72.03 292 v-1.7 M82.7 292 v-3.2 M93.37 292 v-1.7 M104.05 292 v-1.7 M114.72 292 v-1.7 M125.4 292 v-1.7 M136.07 292 v-3.2 M146.74 292 v-1.7 M157.42 292 v-1.7 M168.09 292 v-1.7 M178.77 292 v-1.7 M189.44 292 v-3.2 M200.11 292 v-1.7 M210.79 292 v-1.7 M221.46 292 v-1.7 M232.14 292 v-1.7 M242.81 292 v-3.2 M253.48 292 v-1.7 M264.16 292 v-1.7 M274.83 292 v-1.7 M285.51 292 v-1.7 M296.18 292 v-3.2 M306.85 292 v-1.7 M317.53 292 v-1.7 M328.2 292 v-1.7 M338.88 292 v-1.7 M349.55 292 v-3.2 M360.22 292 v-1.7 M370.9 292 v-1.7 M381.57 292 v-1.7 M392.25 292 v-1.7 M402.92 292 v-3.2 M413.59 292 v-1.7 M424.27 292 v-1.7 M434.94 292 v-1.7 M445.62 292 v-1.7 M456.29 292 v-3.2 M48.8 292.02 h3.2 M48.8 276.68 h1.3 M48.8 267.71 h1.3 M48.8 261.34 h1.3 M48.8 256.4 h1.3 M48.8 252.37 h1.3 M48.8 248.95 h1.3 M48.8 246 h1.3 M48.8 243.39 h1.3 M48.8 241.06 h3.2 M48.8 225.72 h1.3 M48.8 216.75 h1.3 M48.8 210.38 h1.3 M48.8 205.44 h1.3 M48.8 201.41 h1.3 M48.8 197.99 h1.3 M48.8 195.04 h1.3 M48.8 192.43 h1.3 M48.8 190.1 h3.2 M48.8 174.76 h1.3 M48.8 165.79 h1.3 M48.8 159.42 h1.3 M48.8 154.48 h1.3 M48.8 150.45 h1.3 M48.8 147.03 h1.3 M48.8 144.08 h1.3 M48.8 141.47 h1.3 M48.8 139.14 h3.2 M48.8 123.8 h1.3 M48.8 114.83 h1.3 M48.8 108.46 h1.3 M48.8 103.52 h1.3 M48.8 99.49 h1.3 M48.8 96.07 h1.3 M48.8 93.12 h1.3 M48.8 90.51 h1.3 M48.8 88.18 h3.2 M48.8 72.84 h1.3 M48.8 63.87 h1.3 M48.8 57.5 h1.3 M48.8 52.56 h1.3 M48.8 48.53 h1.3 M48.8 45.11 h1.3 M48.8 42.16 h1.3 M48.8 39.55 h1.3 M48.8 37.22 h3.2 M48.8 21.88 h1.3 M48.8 12.91 h1.3 M48.8 6.54 h1.3" stroke-width="1.05"/>
</g>
<!-- tick labels -->
<g font-size="13.6px" fill="#000">
<text x="82.2" y="304.9" text-anchor="middle">0.5</text>
<text x="135.57" y="304.9" text-anchor="middle">1.0</text>
<text x="188.94" y="304.9" text-anchor="middle">1.5</text>
<text x="242.31" y="304.9" text-anchor="middle">2.0</text>
<text x="295.68" y="304.9" text-anchor="middle">2.5</text>
<text x="349.05" y="304.9" text-anchor="middle">3.0</text>
<text x="402.42" y="304.9" text-anchor="middle">3.5</text>
<text x="456.69" y="304.9" text-anchor="middle">4.0</text>
<text x="46.3" y="295.37" text-anchor="end">0.01</text>
<text x="46.3" y="244.41" text-anchor="end">0.1</text>
<text x="46.3" y="193.45" text-anchor="end">1</text>
<text x="46.3" y="142.49" text-anchor="end">10</text>
<text x="46.3" y="91.53" text-anchor="end">100</text>
<text x="46.3" y="40.57" text-anchor="end">1000</text>
</g>
<!-- axis labels -->
<g font-size="14px" fill="#000">
<text x="252.3" y="323.7" text-anchor="middle" font-style="italic">E</text>
<path d="M238.9 330.4 H264" stroke="#000" stroke-width="0.9" fill="none"/>
<text x="252.1" y="345.6" text-anchor="middle" letter-spacing="0.25">TeV</text>
<g transform="translate(9.7 162) rotate(-90)">
<text x="0" y="0" font-style="italic" font-size="15px">σ</text>
<text x="9" y="2.4" font-size="18px">/</text>
<text x="14.1" y="0">fb</text>
</g>
</g>
<!-- legend -->
<rect x="52.7" y="7.8" width="104.6" height="81.9" fill="#fff" stroke="#000" stroke-width="1.5"/>
<g fill="none">
<path d="M57.5 14.45 H77.2" stroke="#000" stroke-width="1.8"/>
<path d="M57.5 24.1 H76.2" stroke="#ff0000" stroke-width="1.85" stroke-dasharray="4.5 1.8"/>
<path d="M58 35.35 H76.2" stroke="#ff0000" stroke-width="0.75" stroke-dasharray="3.6 2.7"/>
<path d="M57.4 46.6 H77" stroke="#0000ff" stroke-width="1.85" stroke-dasharray="2.5 1.43"/>
<path d="M57.8 57.4 H77" stroke="#0000ff" stroke-width="0.9" stroke-dasharray="1.2 2.73"/>
<path d="M57.1 70.8 H76.3" stroke="#00aa00" stroke-width="1.9" stroke-dasharray="2.8 1.15 5 1.15"/>
<path d="M58 82.4 H76.3" stroke="#00aa00" stroke-width="0.8" stroke-dasharray="1.4 2.3 4 2.4"/>
</g>
<g font-size="12.8px">
<text x="120.1" y="17.7" text-anchor="middle" fill="#000" font-size="12.8px">SM</text>
<text x="98" y="28.2" fill="#ff0000">n=2, AS</text>
<text x="97.5" y="39.8" fill="#ff0000">n=2, cutoff</text>
<text x="98" y="51" fill="#0000ff">n=3, AS</text>
<text x="97.5" y="61.8" fill="#0000ff">n=3, cutoff</text>
<text x="98" y="73.3" fill="#00aa00">n=4, AS</text>
<text x="97.5" y="84.5" fill="#00aa00">n=4, cutoff</text>
</g>
</svg>
</body>
</html>
